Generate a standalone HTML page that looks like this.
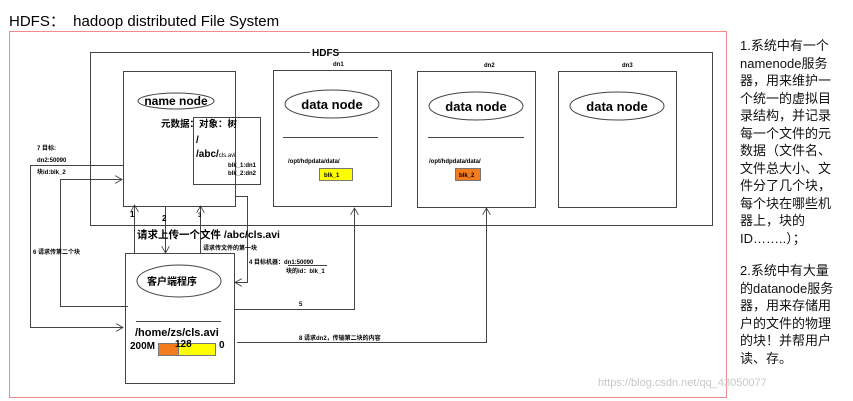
<!DOCTYPE html>
<html><head><meta charset="utf-8"><style>
body{margin:0;width:853px;height:401px;background:#fff;overflow:hidden;position:relative;font-family:"Liberation Sans","Noto Sans CJK SC",sans-serif}
.t{position:absolute;left:740px;width:98px;font-size:13px;line-height:17.5px;color:#111}
</style></head><body>
<div style="position:absolute;left:9px;top:10px;font-size:15px;color:#000">HDFS：&nbsp; hadoop distributed File System</div>
<div class="t" style="top:37px">1.系统中有一个namenode服务器，用来维护一个统一的虚拟目录结构，并记录每一个文件的元数据（文件名、文件总大小、文件分了几个块，每个块在哪些机器上，块的ID……..）；</div>
<div class="t" style="top:262px">2.系统中有大量的datanode服务器，用来存储用户的文件的物理的块！并帮用户读、存。</div>
<svg width="853" height="401" style="position:absolute;left:0;top:0" font-family="Liberation Sans, Noto Sans CJK SC, sans-serif">
<defs><marker id="a" markerWidth="8" markerHeight="8" refX="7" refY="4" orient="auto" markerUnits="userSpaceOnUse"><path d="M0,0 L7,4 L0,8" fill="none" stroke="#333" stroke-width="0.8"/></marker></defs>
<rect x="9.5" y="31.5" width="717" height="366" fill="none" stroke="#f28b8b" stroke-width="1"/>
<g fill="none" stroke="#444" stroke-width="1">
<path d="M310,52.5 H90.5 V225.5 H712.5 V52.5 H338"/>
<rect x="123.5" y="71.5" width="112" height="135"/>
<rect x="193.5" y="117.5" width="67" height="67"/>
<rect x="273.5" y="70.5" width="118" height="136"/>
<rect x="417.5" y="71.5" width="118" height="136"/>
<rect x="558.5" y="71.5" width="118" height="136"/>
<rect x="125.5" y="253.5" width="109" height="130"/>
<ellipse cx="176" cy="101" rx="38" ry="8"/>
<ellipse cx="332" cy="104" rx="47" ry="14"/>
<ellipse cx="476" cy="106" rx="47" ry="14"/>
<ellipse cx="617" cy="106" rx="47" ry="14"/>
<ellipse cx="179" cy="281" rx="42" ry="16"/>
<path d="M283,137.5 H378 M428,137.5 H524 M136,321.5 H221"/>
<path d="M123,165.5 H30.5 V327.5 H123" marker-end="url(#a)"/>
<path d="M128,306.5 H60.5 V179.5 H122" marker-end="url(#a)"/>
<path d="M134.5,253 V205" marker-end="url(#a)"/>
<path d="M165.5,206 V253" marker-end="url(#a)"/>
<path d="M200.5,253 V206" marker-end="url(#a)"/>
<path d="M235,196.5 H247.5 V282.5 H235" marker-end="url(#a)"/>
<path d="M234,309.5 H354.5 V208" marker-end="url(#a)"/>
<path d="M237,342.5 H486.5 V208" marker-end="url(#a)"/>
<path d="M288,265.5 H327"/>
</g>
<rect x="319.5" y="168.5" width="33" height="12" fill="#ffff00" stroke="#777"/>
<rect x="455.5" y="168.5" width="25" height="12" fill="#f47c20" stroke="#777"/>
<rect x="158.5" y="343.5" width="20" height="12" fill="#f47c20" stroke="#777"/>
<rect x="178.5" y="343.5" width="37" height="12" fill="#ffff00" stroke="#777"/>
<g fill="#000" font-weight="bold">
<text x="312" y="56" font-size="10">HDFS</text>
<text x="333" y="66" font-size="6">dn1</text>
<text x="484" y="67" font-size="6">dn2</text>
<text x="622" y="67" font-size="6">dn3</text>
<text x="176" y="105" font-size="12" text-anchor="middle">name node</text>
<text x="332" y="109" font-size="13" text-anchor="middle">data node</text>
<text x="476" y="111" font-size="13" text-anchor="middle">data node</text>
<text x="617" y="111" font-size="13" text-anchor="middle">data node</text>
<text x="161" y="127" font-size="9.5">元数据：对象：树</text>
<text x="196" y="143" font-size="10">/</text>
<text x="196" y="157" font-size="10">/abc/<tspan font-size="6" font-weight="normal">cls.avi</tspan></text>
<text x="228" y="167" font-size="6">blk_1:dn1</text>
<text x="228" y="175" font-size="6">blk_2:dn2</text>
<text x="288" y="163" font-size="6">/opt/hdpdata/data/</text>
<text x="429" y="163" font-size="6">/opt/hdpdata/data/</text>
<text x="324" y="177" font-size="6">blk_1</text>
<text x="459" y="177" font-size="6">blk_2</text>
<text x="37" y="150" font-size="6">7 目标:</text>
<text x="37" y="162" font-size="6">dn2:50090</text>
<text x="37" y="174" font-size="6">块id:blk_2</text>
<text x="33" y="254" font-size="6">6 请求传第二个块</text>
<text x="130" y="217" font-size="8">1</text>
<text x="162" y="221" font-size="8">2</text>
<text x="198" y="217" font-size="6">3</text>
<text x="137" y="238" font-size="10.5">请求上传一个文件 /abc/cls.avi</text>
<text x="203" y="250" font-size="6">请求传文件的第一块</text>
<text x="249" y="264" font-size="6">4 目标机器：dn1:50090</text>
<text x="286" y="273" font-size="6">块的id：blk_1</text>
<text x="147" y="285" font-size="10">客户端程序</text>
<text x="135" y="336" font-size="11">/home/zs/cls.avi</text>
<text x="130" y="349" font-size="10">200M</text>
<text x="175" y="347" font-size="10">128</text>
<text x="219" y="348" font-size="10">0</text>
<text x="299" y="306" font-size="6">5</text>
<text x="299" y="340" font-size="6">8 请求dn2，传输第二块的内容</text>
</g>
<text x="598" y="386" font-size="11" fill="#c8c8c8">https://blog.csdn.net/qq_43050077</text>
</svg>
</body></html>
